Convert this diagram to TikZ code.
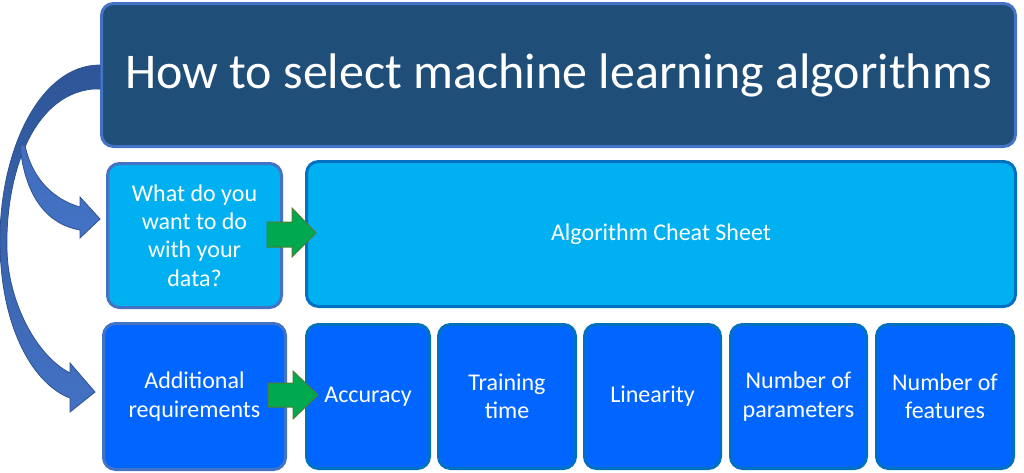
\documentclass[tikz,border=0pt]{standalone}
\usepackage{fontspec}
\setmainfont{Carlito}
\definecolor{titlefill}{HTML}{1F4E79}
\definecolor{lightborder}{HTML}{4472C4}
\definecolor{cyanfill}{HTML}{00B0F0}
\definecolor{midborder}{HTML}{0070C0}
\definecolor{bluefill}{HTML}{0066FF}
\definecolor{greenfill}{HTML}{00A84F}
\definecolor{greenborder}{HTML}{4E7F2E}
\definecolor{arrowdark}{HTML}{2E5597}
\definecolor{arrowlight}{HTML}{4472C4}
\definecolor{arrowedge}{HTML}{2F528F}
\tikzset{
  box/.style={rounded corners=12pt, line width=3pt, text=white, inner sep=0pt, align=center,
    font=\fontsize{24}{28.3}\selectfont},
  greenarrow/.style={fill=greenfill, draw=greenborder, line width=1pt, line join=miter},
  curvearrow/.style={draw=arrowedge, line width=0.8pt, top color=arrowdark, bottom color=arrowlight}
}
\begin{document}
\begin{tikzpicture}[x=1pt,y=-1pt]
\useasboundingbox (0,0) rectangle (1024,472);
% boxes
\node[box, fill=titlefill, draw=lightborder, minimum width=914pt, minimum height=143pt,
  font=\fontsize{50}{56}\selectfont] (title) at (558.5,75) {How to select machine learning algorithms};
\node[box, fill=cyanfill, draw=lightborder, minimum width=174pt, minimum height=144pt] (what) at (194.5,235.5)
  {What do you\\want to do\\with your\\data?};
\node[box, fill=cyanfill, draw=midborder, minimum width=709pt, minimum height=145pt] (cheat) at (661,234)
  {Algorithm Cheat Sheet};
\node[box, fill=bluefill, draw=lightborder, minimum width=182pt, minimum height=146pt] (addreq) at (194.5,396.5)
  {Additional\\requirements};
\node[box, fill=bluefill, draw=midborder, minimum width=123pt, minimum height=144pt] (acc) at (368,396.5)
  {Accuracy};
\node[box, fill=bluefill, draw=midborder, minimum width=137pt, minimum height=144pt] (train) at (507,396.5)
  {Training\\time};
\node[box, fill=bluefill, draw=midborder, minimum width=136pt, minimum height=144pt] (lin) at (652.5,396.5)
  {Linearity};
\node[box, fill=bluefill, draw=midborder, minimum width=136pt, minimum height=144pt] (param) at (798.5,396.5)
  {Number of\\parameters};
\node[box, fill=bluefill, draw=midborder, minimum width=137pt, minimum height=144pt] (feat) at (945,396.5)
  {Number of\\features};
% green block arrows
\draw[greenarrow] (267,222) -- (292,222) -- (292,208) -- (316,233) -- (292,257) -- (292,247) -- (267,247) -- cycle;
\draw[greenarrow] (268,383) -- (293,383) -- (293,371) -- (318,395) -- (293,419) -- (293,407) -- (268,407) -- cycle;
% big curved arrow
\path[curvearrow] (100,65) .. controls (40,65) and (0,150) .. (0,240)
  .. controls (0,330) and (35,385) .. (70,398)
  -- (70,412) -- (95,392) -- (70,363) -- (70,373)
  .. controls (35,355) and (8,300) .. (7,250)
  .. controls (5,180) and (30,95) .. (93,89)
  -- (100,89) -- cycle;
% small curved arrow branch
\path[curvearrow, top color=arrowlight!85!arrowdark, bottom color=arrowlight] (20,145) .. controls (25,200) and (50,225) .. (80,230)
  -- (80,238) -- (100,219) -- (80,197) -- (80,207)
  .. controls (55,200) and (32,180) .. (25,145) -- cycle;
\end{tikzpicture}
\end{document}
